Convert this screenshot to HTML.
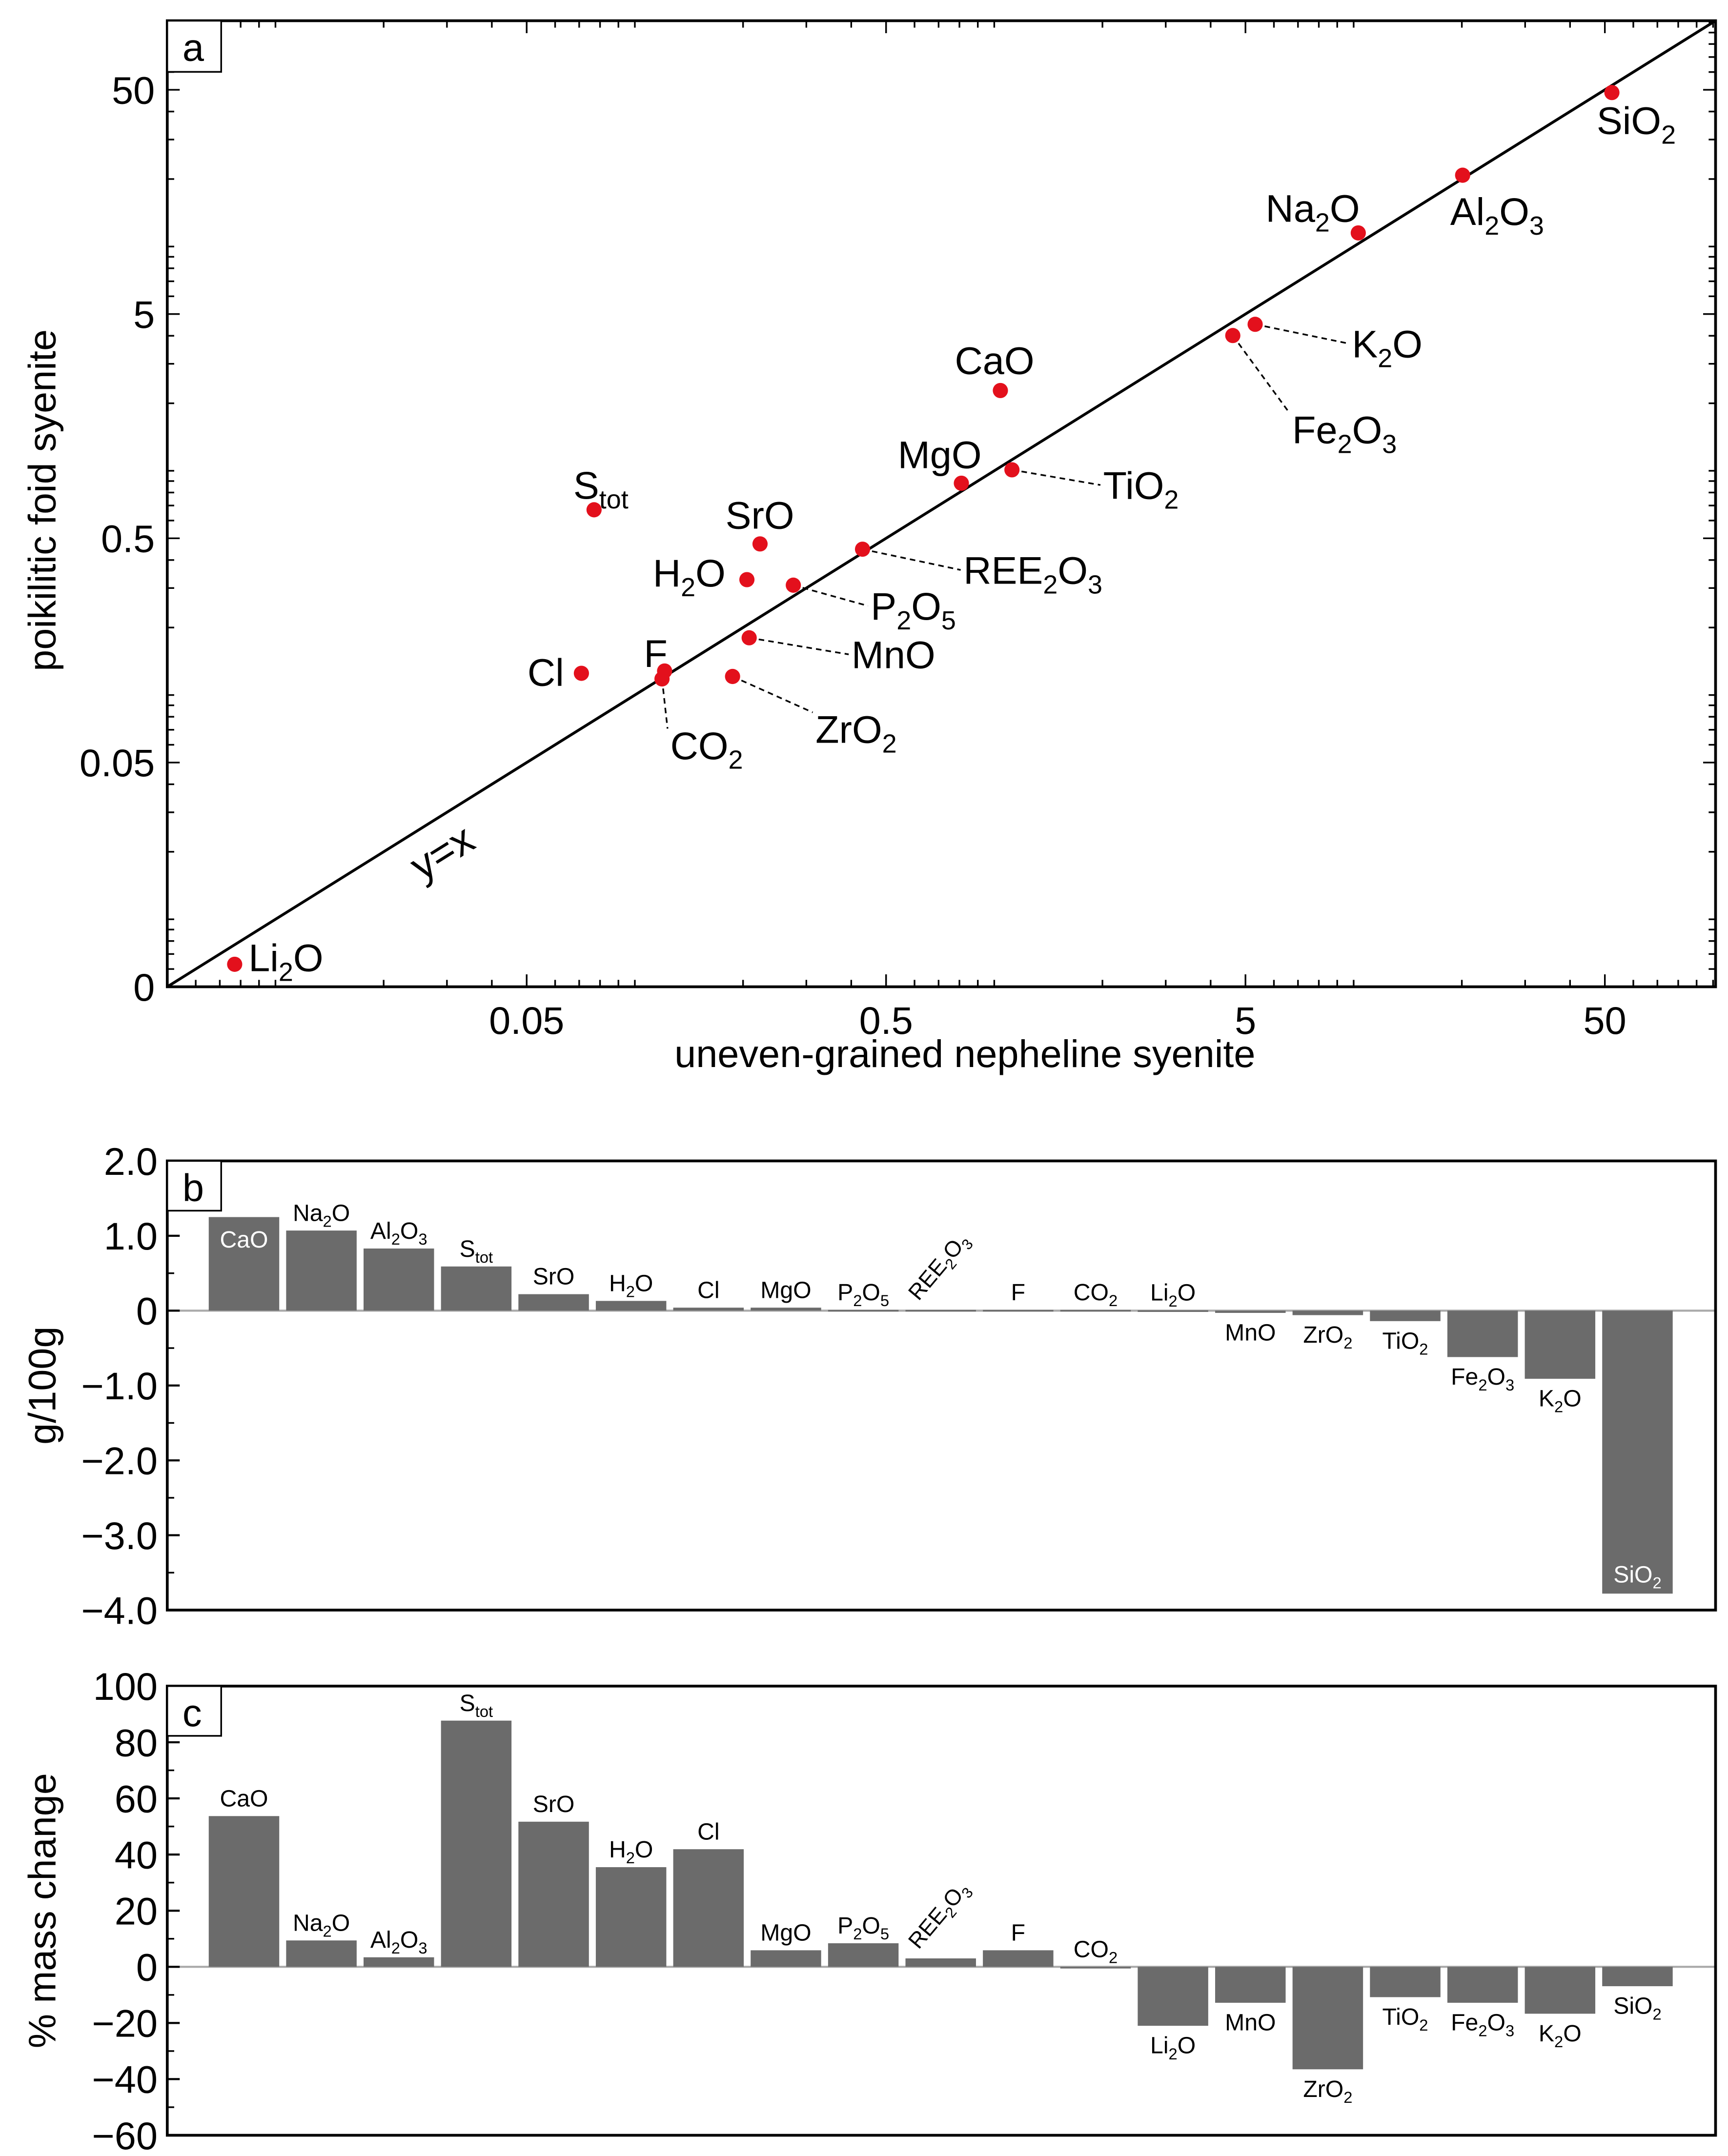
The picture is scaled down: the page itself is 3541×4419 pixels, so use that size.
<!DOCTYPE html>
<html><head><meta charset="utf-8"><style>
html,body{margin:0;padding:0;background:#fff;}
svg{display:block;font-family:"Liberation Sans",Arial,sans-serif;}
</style></head><body>
<svg id="fig" width="3541" height="4419" viewBox="0 0 1250 1560" preserveAspectRatio="none" xmlns="http://www.w3.org/2000/svg">
<rect x="0" y="0" width="1250" height="1560" fill="#fff"/>
<g id="pa"></g>
<g id="pb"></g>
<g id="pc"></g>
</svg>
<script>
// ---------- Panel a data ----------
const scatterNames = ["SiO_2","Al_2O_3","Na_2O","K_2O","Fe_2O_3","CaO","TiO_2","MgO","S_tot","SrO","REE_2O_3","H_2O","P_2O_5","MnO","F","CO_2","Cl","ZrO_2","Li_2O"];
const scatterX = [52.3,20.1,10.3,5.32,4.61,1.04,1.12,0.81,0.077,0.223,0.43,0.205,0.276,0.208,0.121,0.119,0.071,0.187,0.0077];
const scatterY = [48.6,20.8,11.5,4.5,4.01,2.28,1.01,0.88,0.67,0.472,0.447,0.327,0.309,0.18,0.128,0.118,0.125,0.121,0.0063];
const logTickValues = [0.05,0.5,5,50];
const logTickLabels = ["0.05","0.5","5","50"];
// ---------- Panel b/c data ----------
const barCategories = ["CaO","Na_2O","Al_2O_3","S_tot","SrO","H_2O","Cl","MgO","P_2O_5","REE_2O_3","F","CO_2","Li_2O","MnO","ZrO_2","TiO_2","Fe_2O_3","K_2O","SiO_2"];
const gainValues = [1.25,1.07,0.83,0.59,0.22,0.13,0.04,0.04,0.01,0.01,0.01,0.01,0.005,-0.03,-0.06,-0.14,-0.62,-0.91,-3.78];
const pctValues = [53.7,9.4,3.4,87.7,51.7,35.5,41.9,5.9,8.4,3,5.9,0,-21,-12.8,-36.5,-10.8,-12.8,-16.7,-6.9];
const gainTicks = [2,1,0,-1,-2,-3,-4];
const gainTickLabels = ["2.0","1.0","0","\u22121.0","\u22122.0","\u22123.0","\u22124.0"];
const pctTicks = [100,80,60,40,20,0,-20,-40,-60];
const pctTickLabels = ["100","80","60","40","20","0","\u221220","\u221240","\u221260"];

const NS="http://www.w3.org/2000/svg";
function mk(tag,parent,attrs){const e=document.createElementNS(NS,tag);for(const k in attrs)e.setAttribute(k,attrs[k]);parent.appendChild(e);return e;}
function chem(parent,str,x,y,size,anchor,fill){
  const t=mk('text',parent,{x:x,y:y,'font-size':size,'text-anchor':anchor||'start',fill:fill||'#000'});
  const parts=str.split(/(_[0-9a-z]+)/).filter(p=>p);
  let low=false;
  parts.forEach(p=>{
    if(p[0]==='_'){const s=mk('tspan',t,{dy:size*0.25,'font-size':size*0.68});s.textContent=p.slice(1);low=true;}
    else{const s=mk('tspan',t,low?{dy:-size*0.25}:{});s.textContent=p;low=false;}
  });
  return t;
}
// ---------- Panel a ----------
const pa=document.getElementById('pa');
const AL=121,AR=1241,AT=15,AB=714;
const lmin=Math.log10(0.005),lmax=lmin+4.308;
function ax(v){return AL+(Math.log10(v)-lmin)/(lmax-lmin)*(AR-AL);}
function ay(v){return AB-(Math.log10(v)-lmin)/(lmax-lmin)*(AB-AT);}
let fr=mk('rect',pa,{x:AL,y:AT,width:AR-AL,height:AB-AT,fill:'none',stroke:'#000','stroke-width':2});

for(let d=-3;d<=2;d++){for(let m=1;m<10;m++){const v=m*Math.pow(10,d);if(v<0.005||v>100)continue;
  const L=(m===5)?9:5;
  const px=ax(v),py=ay(v);
  mk('line',pa,{x1:px,y1:AB,x2:px,y2:AB-L,stroke:'#000','stroke-width':1.2});
  mk('line',pa,{x1:px,y1:AT,x2:px,y2:AT+L,stroke:'#000','stroke-width':1.2});
  mk('line',pa,{x1:AL,y1:py,x2:AL+L,y2:py,stroke:'#000','stroke-width':1.2});
  mk('line',pa,{x1:AR,y1:py,x2:AR-L,y2:py,stroke:'#000','stroke-width':1.2});
}}
logTickValues.forEach((v,i)=>{
  const tx=mk('text',pa,{x:ax(v),y:748,'font-size':28,'text-anchor':'middle'});tx.textContent=logTickLabels[i];
  
  const ty=mk('text',pa,{x:112,y:ay(v)+10,'font-size':28,'text-anchor':'end'});ty.textContent=logTickLabels[i];
  
});
let z=mk('text',pa,{x:112,y:AB+10,'font-size':28,'text-anchor':'end'});z.textContent='0';

let yl=mk('line',pa,{x1:AL,y1:AB,x2:AR,y2:AT,stroke:'#000','stroke-width':2});

let yx=mk('text',pa,{x:305,y:638,'font-size':30,transform:'rotate(-32 305 638)'});yx.textContent='y=x';

let xt=mk('text',pa,{x:698,y:772,'font-size':28,'text-anchor':'middle'});xt.textContent='uneven-grained nepheline syenite';

let ytt=mk('text',pa,{x:0,y:0,'font-size':28,'text-anchor':'middle',transform:'translate(40 362) rotate(-90)'});ytt.textContent='poikilitic foid syenite';

let lb=mk('rect',pa,{x:AL,y:AT,width:39,height:37,fill:'#fff',stroke:'#000','stroke-width':1.2});

let la=mk('text',pa,{x:132,y:44,'font-size':28});la.textContent='a';

const labelPos={"SiO_2":[-11,30,0],"Al_2O_3":[-9,36,0],"Na_2O":[-67,-8,0],"K_2O":[70,24,1],"Fe_2O_3":[43,78,1],"CaO":[-33,-12,0],
"TiO_2":[66,21,1],"MgO":[-46,-11,0],"S_tot":[-15,-8,0],"SrO":[-25,-11,0],"REE_2O_3":[73,25,1],"H_2O":[-68,5,0],"P_2O_5":[56,25,1],
"MnO":[74,22,1],"F":[-15,-3,0],"CO_2":[6,58,1],"Cl":[-39,9,0],"ZrO_2":[60,48,1],"Li_2O":[10,5,0]};
scatterNames.forEach((n,i)=>{
  const px=ax(scatterX[i]),py=ay(scatterY[i]);const p=labelPos[n];
  if(p[2]){const ln=mk('line',pa,{x1:px,y1:py,x2:px+p[0]-2,y2:py+p[1]-(n==="Fe_2O_3"||n==="CO_2"||n==="ZrO_2"?22:10),stroke:'#000','stroke-width':1.2,'stroke-dasharray':'4,3'});
    }
  const c=mk('circle',pa,{cx:px,cy:py,r:5.5,fill:'#e3101c'});
  
  const t=chem(pa,n,px+p[0],py+p[1],28,'start');
  
});
// ---------- Bar panels ----------
function barPanel(g,top,bottom,vmax,vmin,vals,ticks,tlabels,title,letter,minorStep){
  const L=121,R=1241;
  const sy=v=>top+(vmax-v)/(vmax-vmin)*(bottom-top);
  const y0=sy(0);
  const zl=mk('line',g,{x1:L,y1:y0,x2:R,y2:y0,stroke:'#aaa','stroke-width':1.5});
  
  barCategories.forEach((cat,i)=>{
    const ccx=L+55.5+56*i;
    const v=vals[i];const y=sy(v);
    const r=mk('rect',g,{x:ccx-25.5,y:Math.min(y,y0),width:51,height:Math.max(Math.abs(y-y0),1.2),fill:'#6b6b6b'});
    
    let t;
    if(cat==="REE_2O_3"){const bx=ccx-16,by=Math.min(y,y0)-6;t=chem(g,cat,bx,by,16,'start');t.setAttribute('transform','rotate(-50 '+bx+' '+by+')');}
    else if(letter==='b'&&i===0){t=chem(g,cat,ccx,y+22,17,'middle','#fff');}
    else if(letter==='b'&&cat==="SiO_2"){t=chem(g,cat,ccx,y-8,17,'middle','#fff');}
    else if(v>=0){t=chem(g,cat,ccx,y-7,17,'middle');}
    else{t=chem(g,cat,ccx,y+20,17,'middle');}
    
  });
  for(let v=vmin;v<=vmax+1e-9;v+=minorStep){const yy=sy(v);
    mk('line',g,{x1:L,y1:yy,x2:L+5,y2:yy,stroke:'#000','stroke-width':1.2});}
  ticks.forEach((v,i)=>{const yy=sy(v);
    mk('line',g,{x1:L,y1:yy,x2:L+9,y2:yy,stroke:'#000','stroke-width':1.5});
    const tx=mk('text',g,{x:114,y:yy+10,'font-size':28,'text-anchor':'end'});tx.textContent=tlabels[i];
    
  });
  const f=mk('rect',g,{x:L,y:top,width:R-L,height:bottom-top,fill:'none',stroke:'#000','stroke-width':2});
  
  const b=mk('rect',g,{x:L,y:top,width:39,height:36,fill:'#fff',stroke:'#000','stroke-width':1.2});
  
  const lt=mk('text',g,{x:132,y:top+29,'font-size':28});lt.textContent=letter;
  
  const yt=mk('text',g,{x:0,y:0,'font-size':28,'text-anchor':'middle',transform:'translate(40 '+((top+bottom)/2)+') rotate(-90)'});yt.textContent=title;
  
}
barPanel(document.getElementById('pb'),840,1165,2,-4,gainValues,gainTicks,gainTickLabels,'g/100g','b',0.5);
barPanel(document.getElementById('pc'),1220,1545,100,-60,pctValues,pctTicks,pctTickLabels,'% mass change','c',10);
</script>
</body></html>
